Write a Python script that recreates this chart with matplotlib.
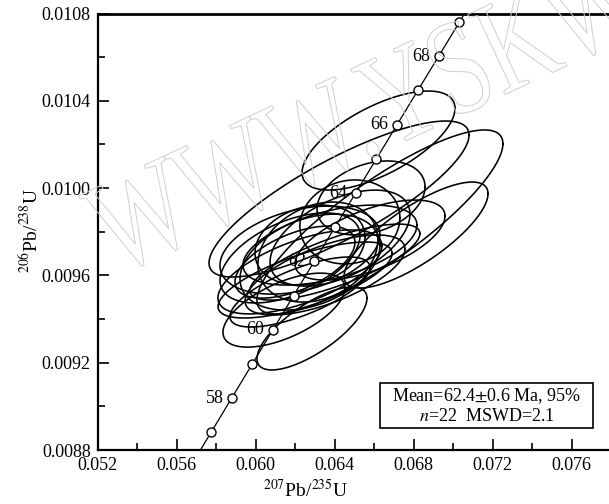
import numpy as np
import matplotlib as mpl
import matplotlib.pyplot as plt
from matplotlib.patches import Rectangle, PathPatch
from matplotlib.textpath import TextPath
from matplotlib.font_manager import FontProperties
from matplotlib.transforms import Affine2D, IdentityTransform
from matplotlib.ticker import MultipleLocator, FormatStrFormatter

mpl.rcParams.update({
    "font.family": "serif",
    "font.serif": ["Liberation Serif", "DejaVu Serif"],
    "mathtext.fontset": "stix",
    "font.size": 13,
})

# decay constants, 1/Ma
LAMBDA_238 = 1.55125e-4
LAMBDA_235 = 9.8485e-4

# error ellipses: centre, half-widths (x, y) and error correlation
ell_x = [0.06622, 0.06422, 0.06629, 0.06812, 0.06584, 0.06579, 0.06376, 0.06285,
         0.06143, 0.06224, 0.06224, 0.06275, 0.06250, 0.06315, 0.06199, 0.06351,
         0.06224, 0.06401, 0.06275, 0.06477, 0.06427, 0.06174]
ell_y = [0.010218, 0.009950, 0.009845, 0.009785, 0.009955, 0.009762, 0.009739, 0.009357,
         0.009441, 0.009616, 0.009716, 0.009661, 0.009579, 0.009707, 0.009661, 0.009602,
         0.009524, 0.009661, 0.009739, 0.009845, 0.009771, 0.009680]
ell_ex = [0.003873, 0.006582, 0.006227, 0.003645, 0.002734, 0.003797, 0.004405, 0.002785,
          0.003088, 0.004152, 0.004050, 0.003544, 0.004405, 0.003038, 0.003038, 0.004050,
          0.003544, 0.004304, 0.002785, 0.002532, 0.003544, 0.003544]
ell_ey = [0.0002268, 0.0003574, 0.0004215, 0.0002428, 0.0001695, 0.0001833, 0.0001833, 0.0001902,
          0.0001695, 0.0001924, 0.0002016, 0.0002199, 0.0001741, 0.0002291, 0.0001650, 0.0001833,
          0.0001604, 0.0001741, 0.0001833, 0.0001924, 0.0002199, 0.0002062]
ell_rho = [0.65, 0.82, 0.85, 0.78, 0.30, 0.60, 0.50, 0.73,
           0.60, 0.62, 0.35, 0.35, 0.70, 0.25, 0.55, 0.65,
           0.70, 0.75, 0.20, 0.10, 0.50, 0.50]

marker_ages = [57, 58, 59, 60, 61, 62, 63, 64, 65, 66, 67, 68, 69]
label_ages = [58, 60, 62, 64, 66, 68]

result_text = ["Mean=62.4$\\pm$0.6 Ma, 95%", "$n$=22  MSWD=2.1"]


def concordia(t):
    return np.exp(LAMBDA_235 * np.asarray(t)) - 1, np.exp(LAMBDA_238 * np.asarray(t)) - 1


fig = plt.figure(figsize=(6.09, 5.04), dpi=100)
ax = fig.add_axes([0.1604, 0.1071, 0.8432, 0.8661])

# watermark
wm = TextPath((0, 0), "WWW.YSKW", size=1, prop=FontProperties(family="Liberation Serif"))
tr = Affine2D().scale(135 * 0.74, 135).rotate_deg(25).translate(116, 228)
fig.patches.append(PathPatch(tr.transform_path(wm), facecolor="none", edgecolor="#cfcfcf",
                             lw=0.7, transform=IdentityTransform(), zorder=0))

# ellipses
th = np.linspace(0, 2 * np.pi, 300)
for x0, y0, ex, ey, r in zip(ell_x, ell_y, ell_ex, ell_ey, ell_rho):
    xs = x0 + ex * np.cos(th)
    ys = y0 + ey * (r * np.cos(th) + np.sqrt(1 - r * r) * np.sin(th))
    ax.plot(xs, ys, color="black", lw=1.15, zorder=2)

# concordia curve
cx, cy = concordia(np.linspace(50, 75, 500))
ax.plot(cx, cy, color="black", lw=0.9, zorder=3)
mx, my = concordia(marker_ages)
ax.plot(mx, my, "o", ms=6.5, mfc="white", mec="black", mew=1.0, zorder=4)
for a in label_ages:
    lx, ly = concordia(a)
    ax.annotate(str(a), (lx, ly), xytext=(-6, 0), textcoords="offset points",
                ha="right", va="center", fontsize=13, zorder=5)

ax.set_xlim(0.052, 0.078)
ax.set_ylim(0.0088, 0.0108)
ax.xaxis.set_major_locator(MultipleLocator(0.004))
ax.xaxis.set_minor_locator(MultipleLocator(0.002))
ax.yaxis.set_major_locator(MultipleLocator(0.0004))
ax.yaxis.set_minor_locator(MultipleLocator(0.0002))
ax.xaxis.set_major_formatter(FormatStrFormatter("%.3f"))
ax.yaxis.set_major_formatter(FormatStrFormatter("%.4f"))
ax.tick_params(which="both", direction="in", top=False, right=False, width=1.2, labelsize=13)
ax.tick_params(which="major", length=8, pad=5)
ax.tick_params(which="minor", length=5)
for s in ax.spines.values():
    s.set_linewidth(1.6)
ax.spines["top"].set_linewidth(2.0)
ax.patch.set_alpha(0)

ax.text(0.404, -0.092, "$^{207}$Pb/$^{235}$U", transform=ax.transAxes,
        ha="center", va="center", fontsize=14)
ax.text(-0.132, 0.504, "$^{206}$Pb/$^{238}$U", transform=ax.transAxes,
        ha="center", va="center", rotation=90, fontsize=14)

# result box
ax.add_patch(Rectangle((0.550, 0.0504), 0.4146, 0.1031, transform=ax.transAxes,
                       facecolor="white", edgecolor="black", lw=1.2, zorder=6))
ax.text(0.757, 0.124, result_text[0], transform=ax.transAxes, ha="center", va="center",
        fontsize=13, zorder=7)
ax.text(0.757, 0.077, result_text[1], transform=ax.transAxes, ha="center", va="center",
        fontsize=13, zorder=7)

fig.savefig("out.png", dpi=100)
